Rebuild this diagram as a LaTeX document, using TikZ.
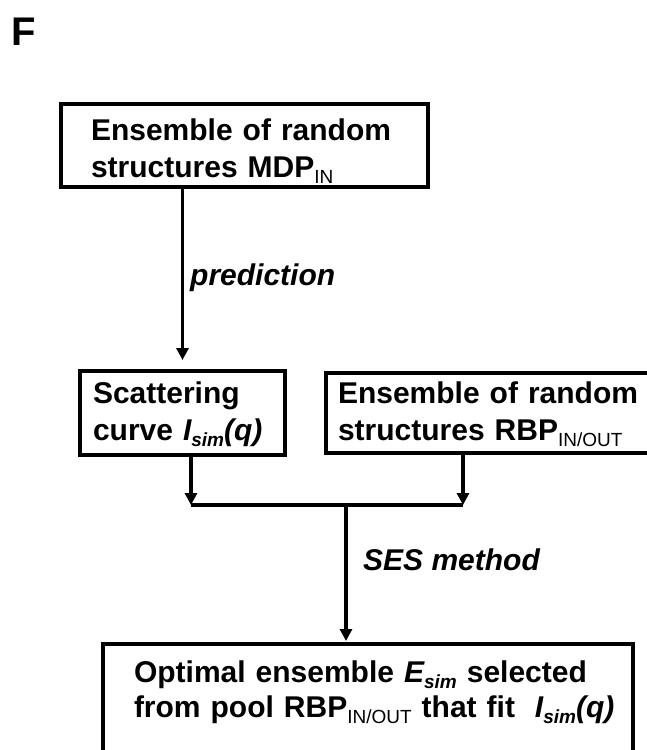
\documentclass[tikz,border=0pt]{standalone}
\usepackage{fontspec}
\setmainfont{Liberation Sans}
\usetikzlibrary{arrows.meta}
\newcommand{\subidx}[1]{\raisebox{-6pt}{\fontsize{19}{19}\selectfont #1}}

\begin{document}
\begin{tikzpicture}[x=1pt,y=-1pt,
        box/.style={draw,rectangle,line width=4pt,anchor=north west,outer sep=0pt,
          inner ysep=0pt,align=left,text height=22pt,
          font=\fontsize{30}{37}\selectfont\bfseries},
        flow/.style={-{Triangle[width=12pt,length=12pt]},line width=3.3pt},
        lbl/.style={anchor=base west,inner sep=0pt,
          font=\fontsize{30}{30}\selectfont\bfseries\itshape}]
        \useasboundingbox (0,0) rectangle (647,750);
        \clip (0,0) rectangle (647,750);

        \node [anchor=base west,inner sep=0pt,font=\fontsize{40}{40}\selectfont\bfseries] (panel) at (11,45) {F};

        \node [box,inner xsep=30pt,minimum width=367pt,minimum height=83pt,text width=307pt,text depth=33pt] (mdp) at (61,104)
            {Ensemble of random\\structures MDP\subidx{\mdseries IN}};
        \node [box,inner xsep=13pt,minimum width=205pt,minimum height=84pt,text width=179pt,text depth=42pt] (scat) at (80,371)
            {Scattering\\curve {\itshape I\subidx{sim}(q)}};
        \node [box,inner xsep=12pt,minimum width=334pt,minimum height=80pt,text width=310pt,text depth=42pt] (rbp) at (326,373)
            {Ensemble of random\\structures RBP\subidx{\mdseries IN/OUT}};
        \node [box,inner xsep=31pt,minimum width=530pt,minimum height=116pt,text width=468pt,text depth=62pt,
            font=\fontsize{30}{35}\selectfont\bfseries] (opt) at (103,644)
            {Optimal ensemble {\itshape E\subidx{sim}} selected\\from~pool~RBP\subidx{\mdseries IN/OUT}~that~fit~~{\itshape I\subidx{sim}(q)}};

        \node [lbl] (pred) at (190,285) {prediction};
        \node [lbl] (ses) at (363,570) {SES method};

        \coordinate (joinL) at (191,505);
        \coordinate (joinR) at (463,505);
        \coordinate (join) at (346,505);

        \draw[flow,shorten >=11pt] (mdp.south -| scat.north) to (scat.north);
        \draw[flow] (scat.south -| joinL) to (joinL);
        \draw[flow] (rbp.south -| joinR) to (joinR);
        \draw[line width=3.3pt] (joinL) to (joinR);
        \draw[flow,shorten >=3pt] (join) to (join |- opt.north);
\end{tikzpicture}
\end{document}
